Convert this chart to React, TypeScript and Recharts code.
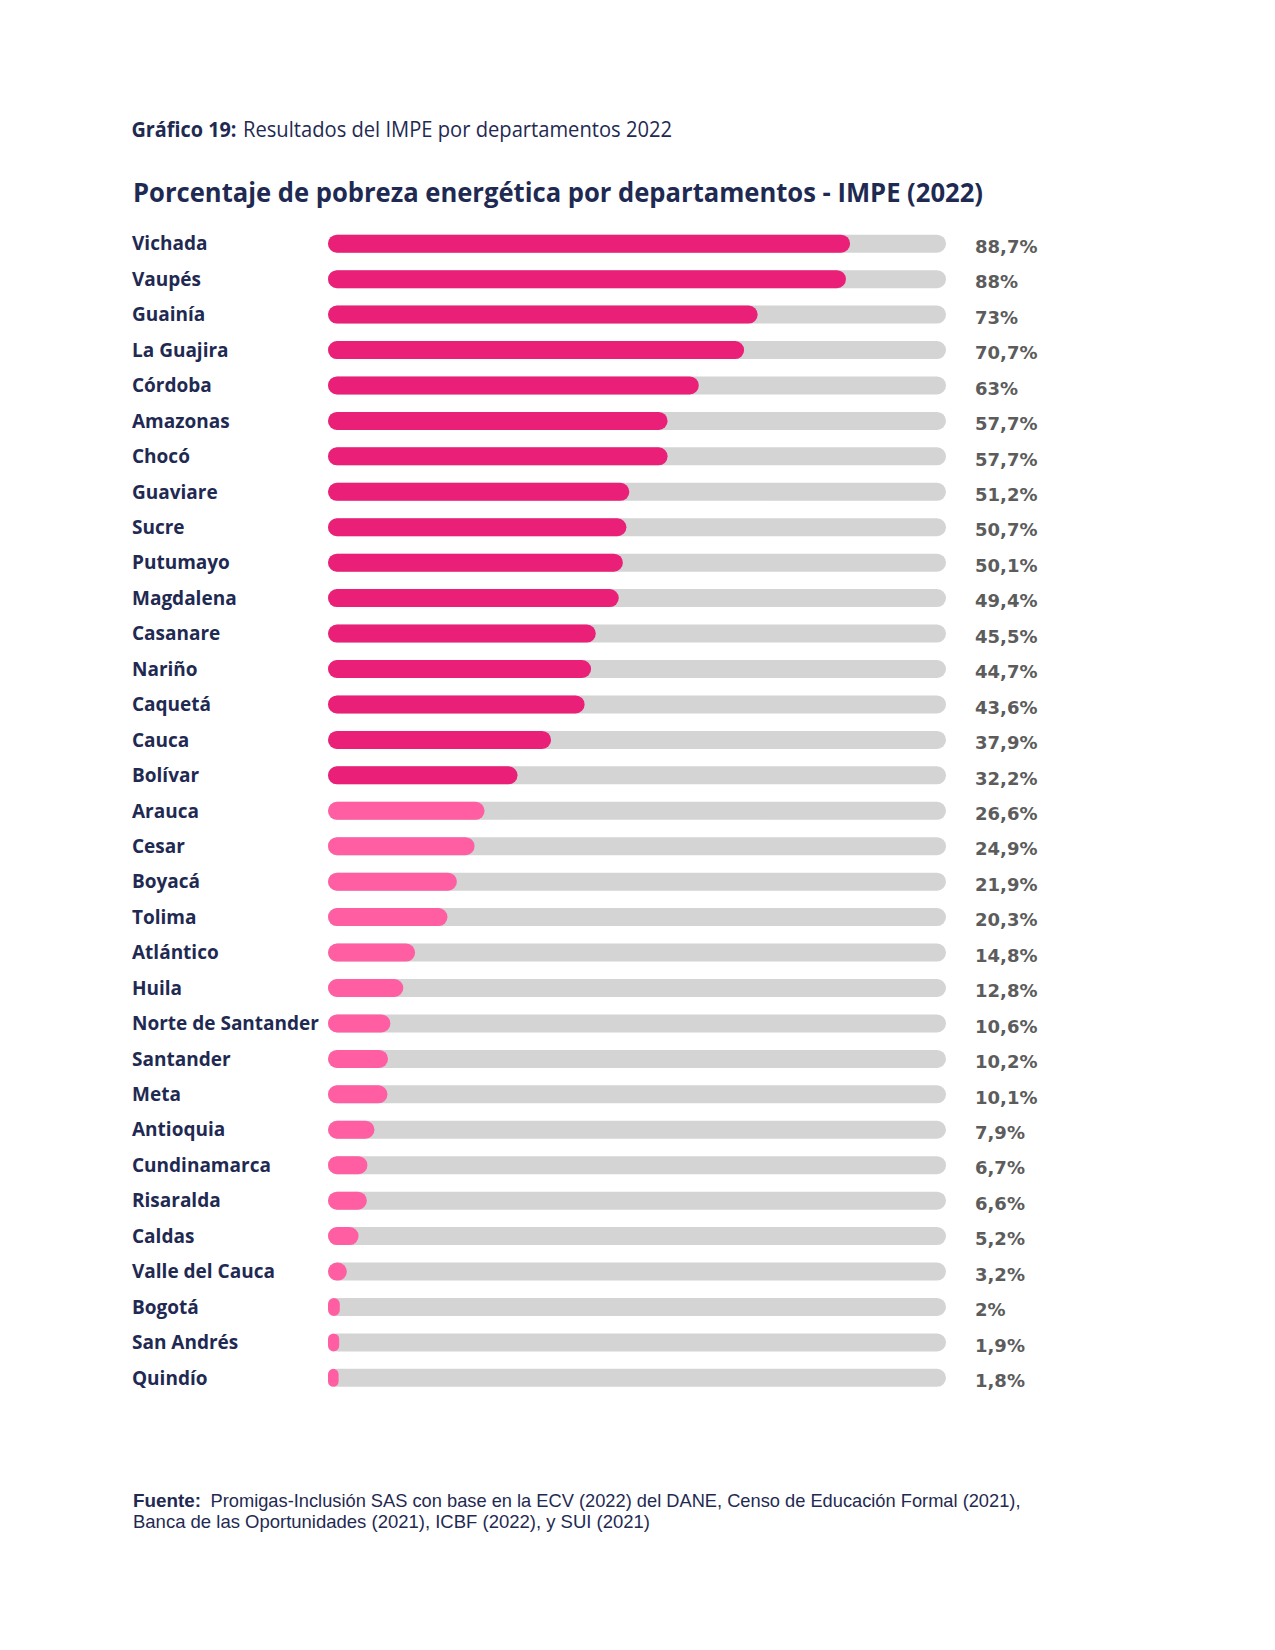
import { BarChart, Bar, XAxis, YAxis, Cell } from 'recharts';

const departamentos = [
  'Vichada', 'Vaupés', 'Guainía', 'La Guajira', 'Córdoba', 'Amazonas', 'Chocó', 'Guaviare',
  'Sucre', 'Putumayo', 'Magdalena', 'Casanare', 'Nariño', 'Caquetá', 'Cauca', 'Bolívar',
  'Arauca', 'Cesar', 'Boyacá', 'Tolima', 'Atlántico', 'Huila', 'Norte de Santander', 'Santander',
  'Meta', 'Antioquia', 'Cundinamarca', 'Risaralda', 'Caldas', 'Valle del Cauca', 'Bogotá',
  'San Andrés', 'Quindío',
];

const impe = [
  88.7, 88, 73, 70.7, 63, 57.7, 57.7, 51.2,
  50.7, 50.1, 49.4, 45.5, 44.7, 43.6, 37.9, 32.2,
  26.6, 24.9, 21.9, 20.3, 14.8, 12.8, 10.6, 10.2,
  10.1, 7.9, 6.7, 6.6, 5.2, 3.2, 2,
  1.9, 1.8,
];

const NAVY = '#1f2a52';
const DARK_PINK = '#e91f78';
const LIGHT_PINK = '#ff5fa2';
const TRACK = '#d4d4d4';

const fmt = (v: number) => String(v).replace('.', ',') + '%';

const data = departamentos.map((name, i) => ({ name, value: impe[i] }));

function LeftTick({ y, payload }: any) {
  return (
    <text x={132} y={y + 7} fill={NAVY} fontFamily="Open Sans" fontWeight={700} fontSize={19}>
      {payload.value}
    </text>
  );
}

function RightTick({ y, index }: any) {
  return (
    <text x={975} y={y + 9.5} fill="#5c5c5c" fontFamily="DejaVu Sans" fontWeight={700} fontSize={18}>
      {fmt(impe[index])}
    </text>
  );
}

export default function App() {
  return (
    <div style={{ position: 'absolute', left: 0, top: 0, width: 1275, height: 1650, background: '#fff' }}>
      <div style={{ position: 'absolute', left: 0, top: 0 }}>
        <BarChart
          width={1275}
          height={1650}
          data={data}
          layout="vertical"
          margin={{ top: 225.7, bottom: 254.7, left: 0, right: 0 }}
        >
          <XAxis type="number" domain={[0, 105]} hide />
          <YAxis
            yAxisId="left"
            type="category"
            dataKey="name"
            width={328}
            axisLine={false}
            tickLine={false}
            interval={0}
            tick={<LeftTick />}
          />
          <YAxis
            yAxisId="right"
            orientation="right"
            type="category"
            dataKey="name"
            width={329}
            axisLine={false}
            tickLine={false}
            interval={0}
            tick={<RightTick />}
          />
          <Bar
            yAxisId="left"
            dataKey="value"
            barSize={18}
            radius={9}
            background={{ fill: TRACK, radius: 9 }}
            isAnimationActive={false}
          >
            {data.map((d) => (
              <Cell key={d.name} fill={d.value >= 30 ? DARK_PINK : LIGHT_PINK} />
            ))}
          </Bar>
        </BarChart>
      </div>
      <svg
        width={1275}
        height={1650}
        style={{ position: 'absolute', left: 0, top: 0, pointerEvents: 'none' }}
      >
        <text x={131.5} y={136.7} fill={NAVY} fontFamily="Open Sans" fontWeight={700} fontSize={22} textLength={105} lengthAdjust="spacingAndGlyphs">
          Gráfico 19:
        </text>
        <text x={243} y={136.7} fill={NAVY} fontFamily="Open Sans" fontWeight={400} fontSize={22} textLength={429} lengthAdjust="spacingAndGlyphs">
          Resultados del IMPE por departamentos 2022
        </text>
        <text x={133} y={201.7} fill={NAVY} fontFamily="Open Sans" fontWeight={700} fontSize={26} textLength={850} lengthAdjust="spacingAndGlyphs">
          Porcentaje de pobreza energética por departamentos - IMPE (2022)
        </text>
        <text x={133} y={1506.7} fill={NAVY} fontFamily="Liberation Sans" fontWeight={700} fontSize={18.5} textLength={68} lengthAdjust="spacingAndGlyphs">
          Fuente:
        </text>
        <text x={210.5} y={1506.7} fill={NAVY} fontFamily="Liberation Sans" fontWeight={400} fontSize={18.5} textLength={810} lengthAdjust="spacingAndGlyphs">
          Promigas-Inclusión SAS con base en la ECV (2022) del DANE, Censo de Educación Formal (2021),
        </text>
        <text x={133} y={1528.3} fill={NAVY} fontFamily="Liberation Sans" fontWeight={400} fontSize={18.5} textLength={517} lengthAdjust="spacingAndGlyphs">
          Banca de las Oportunidades (2021), ICBF (2022), y SUI (2021)
        </text>
      </svg>
    </div>
  );
}
